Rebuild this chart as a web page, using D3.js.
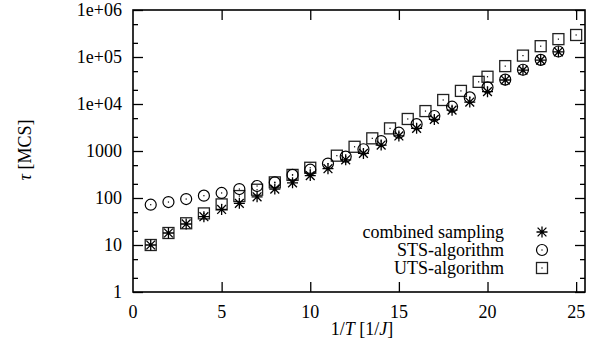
<!DOCTYPE html>
<html>
<head>
<meta charset="utf-8">
<script src="https://cdn.jsdelivr.net/npm/d3@7"></script>
<style>
  body { margin: 0; background: #fff; }
</style>
</head>
<body>
<div class="canvas"></div>
<script>
// combined sampling and STS share the same temperatures
const xCommon = [1, 2, 3, 4, 5, 6, 7, 8, 9, 10, 11, 12, 13, 14, 15, 16, 17, 18, 19, 20, 21, 22, 23, 24];
const combined = [10, 18, 28, 40, 57, 77, 106, 155, 210, 300, 420, 650, 890, 1340, 2090, 3030, 4700, 7400, 11000, 18300, 32400, 52700, 86000, 129000];
const sts = [72, 82, 95, 112, 128, 155, 180, 215, 310, 400, 540, 760, 1090, 1630, 2450, 3730, 5560, 8760, 13800, 22600, 33000, 53500, 87000, 131000];

const xUts = [1, 2, 3, 4, 5, 6, 7, 8, 9, 10, 11.5, 12.5, 13.5, 14.5, 15.5, 16.5, 17.5, 18.5, 19.5, 20, 21, 22, 23, 24, 25];
const uts = [10, 18, 29, 47, 73, 110, 150, 215, 310, 440, 795, 1230, 1860, 3030, 4800, 7070, 12170, 19000, 29600, 38000, 64000, 107000, 170000, 240000, 294000];

const xTicks = [0, 5, 10, 15, 20, 25];
const yTicks = [1, 10, 100, 1000, 1e4, 1e5, 1e6];
const yTickLabels = ['1', '10', '100', '1000', '1e+04', '1e+05', '1e+06'];
const legendLabels = ['combined sampling', 'STS-algorithm', 'UTS-algorithm'];

const W = 598, H = 346;
const margin = { top: 10, right: 13, bottom: 54, left: 133 };
const w = W - margin.left - margin.right;
const h = H - margin.top - margin.bottom;
const fontFam = '"Liberation Serif", "Times New Roman", Times, serif';
const fs = '18px';

const svg = d3.select('.canvas')
  .append('svg')
  .attr('width', W)
  .attr('height', H)
  .attr('font-family', fontFam);

const graph = svg.append('g')
  .attr('transform', `translate(${margin.left}, ${margin.top})`);

const x = d3.scaleLinear().domain([0, 25.5]).range([0, w]);
const y = d3.scaleLog().domain([1, 1e6]).range([h, 0]);

// minor ticks at 2 and 5 in every decade
const minor = [];
yTicks.slice(0, -1).forEach(t => { minor.push(t * 2, t * 5); });

const tickStroke = g => g.selectAll('line').attr('stroke', '#000').attr('stroke-width', 1.3);

// y axis, left and right, ticks pointing inward
graph.append('g')
  .call(d3.axisRight(y).tickValues(yTicks).tickSize(10).tickFormat(''))
  .call(g => g.select('.domain').remove()).call(tickStroke);
graph.append('g')
  .call(d3.axisRight(y).tickValues(minor).tickSize(5).tickFormat(''))
  .call(g => g.select('.domain').remove()).call(tickStroke);
graph.append('g')
  .attr('transform', `translate(${w}, 0)`)
  .call(d3.axisLeft(y).tickValues(yTicks).tickSize(10).tickFormat(''))
  .call(g => g.select('.domain').remove()).call(tickStroke);
graph.append('g')
  .attr('transform', `translate(${w}, 0)`)
  .call(d3.axisLeft(y).tickValues(minor).tickSize(5).tickFormat(''))
  .call(g => g.select('.domain').remove()).call(tickStroke);

// x axis, bottom and top
graph.append('g')
  .attr('transform', `translate(0, ${h})`)
  .call(d3.axisTop(x).tickValues(xTicks.slice(1)).tickSize(10).tickFormat(''))
  .call(g => g.select('.domain').remove()).call(tickStroke);
graph.append('g')
  .call(d3.axisBottom(x).tickValues(xTicks.slice(1)).tickSize(10).tickFormat(''))
  .call(g => g.select('.domain').remove()).call(tickStroke);

// frame
graph.append('rect')
  .attr('width', w).attr('height', h)
  .attr('fill', 'none').attr('stroke', '#000').attr('stroke-width', 1.6);

// tick labels
graph.selectAll('.ylab')
  .data(yTicks)
  .enter().append('text')
  .attr('x', -11)
  .attr('y', d => y(d))
  .attr('dy', '0.34em')
  .attr('text-anchor', 'end')
  .style('font-size', fs)
  .text((d, i) => yTickLabels[i]);

graph.selectAll('.xlab')
  .data(xTicks)
  .enter().append('text')
  .attr('x', d => x(d))
  .attr('y', h + 26)
  .attr('text-anchor', 'middle')
  .style('font-size', fs)
  .text(d => d);

// axis titles
const xt = graph.append('text')
  .attr('x', 229).attr('y', h + 43)
  .attr('text-anchor', 'middle')
  .style('font-size', fs);
xt.append('tspan').text('1/');
xt.append('tspan').style('font-style', 'italic').text('T');
xt.append('tspan').text(' [1/');
xt.append('tspan').style('font-style', 'italic').text('J');
xt.append('tspan').text(']');

const yt = svg.append('text')
  .attr('transform', 'translate(31, 150) rotate(-90)')
  .attr('text-anchor', 'middle')
  .style('font-size', fs);
yt.append('tspan').style('font-style', 'italic').text('τ');
yt.append('tspan').text(' [MCS]');

// marker drawing
function star(g) {
  const s = 5.5;
  g.append('path')
    .attr('d', `M${-s},0H${s}M0,${-s}V${s}M${-s * 0.8},${-s * 0.8}L${s * 0.8},${s * 0.8}M${-s * 0.8},${s * 0.8}L${s * 0.8},${-s * 0.8}`)
    .attr('stroke', '#000').attr('stroke-width', 1.3).attr('fill', 'none');
}
function circle(g) {
  g.append('circle').attr('r', 5.5)
    .attr('fill', 'none').attr('stroke', '#000').attr('stroke-width', 1.2);
  g.append('rect').attr('x', -0.6).attr('y', -0.6).attr('width', 1.2).attr('height', 1.2).attr('fill', '#000');
}
function square(g) {
  g.append('rect').attr('x', -5.5).attr('y', -5.5).attr('width', 11).attr('height', 11)
    .attr('fill', 'none').attr('stroke', '#222').attr('stroke-width', 1.3);
  g.append('rect').attr('x', -0.6).attr('y', -0.6).attr('width', 1.2).attr('height', 1.2).attr('fill', '#000');
}

const plotSeries = (xs, ys, draw) => {
  graph.append('g').selectAll('g')
    .data(ys.map((v, i) => [xs[i], v]))
    .enter().append('g')
    .attr('transform', d => `translate(${x(d[0])}, ${y(d[1])})`)
    .each(function () { draw(d3.select(this)); });
};

plotSeries(xUts, uts, square);
plotSeries(xCommon, sts, circle);
plotSeries(xCommon, combined, star);

// legend
const drawers = [star, circle, square];
legendLabels.forEach((lab, i) => {
  const cy = 222 + i * 18;
  graph.append('text')
    .attr('x', 371).attr('y', cy)
    .attr('dy', '0.34em')
    .attr('text-anchor', 'end')
    .style('font-size', fs)
    .text(lab);
  const g = graph.append('g').attr('transform', `translate(409, ${cy})`);
  drawers[i](g);
});
</script>
</body>
</html>
